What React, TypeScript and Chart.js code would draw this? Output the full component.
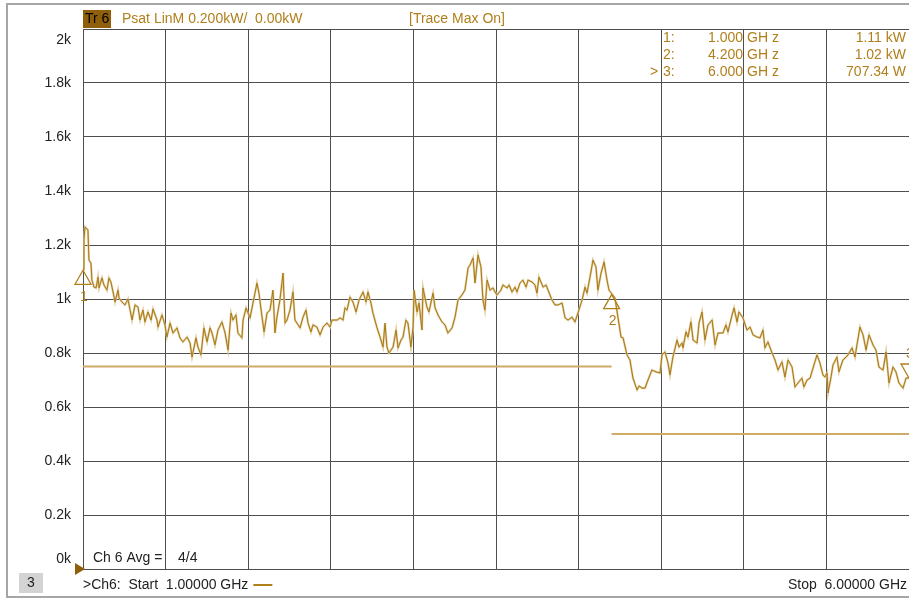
import React, { useEffect, useRef } from "react";
import { Chart, registerables } from "chart.js";

Chart.register(...registerables);

// ---------- data ----------
const traceFreqGHz = [
  1.000, 1.006, 1.012, 1.030, 1.036, 1.048, 1.054, 1.067, 1.079, 1.091, 1.097, 1.115, 1.127, 1.145, 1.157, 1.169, 1.182, 1.194, 1.212, 1.218,
  1.236, 1.254, 1.272, 1.285, 1.297, 1.315, 1.333, 1.345, 1.363, 1.375, 1.393, 1.412, 1.424, 1.448, 1.454, 1.478, 1.496, 1.508, 1.527, 1.545,
  1.569, 1.587, 1.605, 1.630, 1.648, 1.660, 1.684, 1.696, 1.714, 1.732, 1.751, 1.769, 1.781, 1.799, 1.817, 1.841, 1.860, 1.878, 1.896, 1.908,
  1.926, 1.938, 1.962, 1.969, 1.987, 1.999, 2.011, 2.029, 2.053, 2.065, 2.084, 2.096, 2.114, 2.132,
  2.150, 2.162, 2.174, 2.192, 2.211, 2.223, 2.235, 2.253, 2.271, 2.283, 2.295, 2.314, 2.332, 2.350, 2.362, 2.380, 2.392, 2.416, 2.435, 2.453,
  2.477, 2.495, 2.507, 2.538, 2.556, 2.574, 2.586, 2.598, 2.616, 2.634, 2.653, 2.671, 2.695, 2.713, 2.725, 2.743, 2.755, 2.780, 2.798, 2.816,
  2.828, 2.840, 2.852, 2.877, 2.895, 2.907, 2.925, 2.937, 2.955, 2.967, 2.985, 2.998, 3.004, 3.022, 3.034, 3.052, 3.058, 3.082, 3.094, 3.119,
  3.131, 3.149, 3.173, 3.191, 3.209, 3.234, 3.252, 3.270, 3.294, 3.312, 3.331,
  3.343, 3.361, 3.373, 3.391, 3.409, 3.421, 3.433, 3.446, 3.464, 3.482, 3.494, 3.506, 3.530, 3.542, 3.567, 3.579, 3.597, 3.615, 3.627, 3.645,
  3.663, 3.682, 3.694, 3.718, 3.736, 3.748, 3.760, 3.785, 3.803, 3.815, 3.839, 3.857, 3.875, 3.900, 3.918, 3.936, 3.960, 3.978, 3.996, 4.021,
  4.039, 4.051, 4.069, 4.087, 4.105, 4.117, 4.136, 4.154, 4.172, 4.184, 4.200, 4.220, 4.238, 4.257, 4.269, 4.293, 4.311, 4.329, 4.354, 4.366,
  4.384, 4.402, 4.420, 4.444, 4.469, 4.493,
  4.505, 4.523, 4.541, 4.553, 4.571, 4.596, 4.608, 4.626, 4.632, 4.650, 4.662, 4.680, 4.693, 4.717, 4.729, 4.747, 4.765, 4.783, 4.808, 4.826,
  4.844, 4.874, 4.892, 4.904, 4.929, 4.941, 4.959, 4.971, 4.995, 5.019, 5.038, 5.056, 5.080, 5.098, 5.116, 5.128, 5.146, 5.171, 5.189, 5.207,
  5.231, 5.249, 5.268, 5.292, 5.310, 5.328, 5.352, 5.364, 5.383, 5.401, 5.419, 5.443, 5.461, 5.479, 5.491, 5.504, 5.510, 5.528, 5.540, 5.564,
  5.576, 5.600, 5.619, 5.631, 5.655, 5.673, 5.685, 5.703, 5.722, 5.740, 5.758, 5.782, 5.800, 5.818, 5.843, 5.861, 5.879, 5.903, 5.921, 5.939,
  5.964, 5.982, 6.000,
];

const tracePowerW = [
  1110, 1219, 1267, 1256, 1144, 1133, 1070, 1044, 1041, 1081, 1041, 1078, 1052, 1033, 1078, 1063, 1026, 989, 1033, 1004,
  989, 978, 1000, 959, 922, 978, 970, 922, 959, 915, 952, 922, 963, 922, 896, 941, 904, 859, 911, 874,
  893, 856, 841, 859, 837, 785, 856, 822, 793, 893, 841, 893, 874, 830, 885, 915, 874, 811, 948, 922,
  941, 874, 856, 922, 967, 948, 930, 985, 1059, 1022, 933, 878, 948, 959,
  1033, 874, 933, 996, 1096, 911, 922, 959, 1026, 922, 911, 893, 933, 959, 911, 878, 904, 896, 867, 896,
  911, 896, 922, 922, 930, 922, 967, 959, 1007, 989, 952, 996, 1026, 989, 1026, 985, 948, 893, 859, 822,
  911, 822, 800, 822, 885, 819, 848, 859, 922, 911, 822, 896, 1033, 952, 985, 885, 1041, 970, 952, 1022,
  967, 941, 915, 904, 874, 893, 933, 996, 1015, 1033, 1115,
  1126, 1152, 1059, 1163, 1119, 996, 959, 1070, 1033, 1041, 1026, 1015, 1033, 1052, 1041, 1052, 1026, 1044, 1026, 1059,
  1070, 1044, 1070, 1063, 1052, 1022, 1081, 1044, 1052, 1033, 996, 978, 978, 985, 930, 922, 933, 915, 948, 996,
  1044, 1022, 1081, 1144, 1119, 1033, 1096, 1137, 1070, 1033, 1020, 1004, 933, 859, 856, 793, 774, 707, 663, 678,
  670, 670, 700, 737, 730, 726,
  793, 804, 763, 719, 785, 848, 822, 837, 819, 878, 859, 915, 848, 837, 911, 952, 848, 904, 922, 830,
  874, 874, 904, 878, 941, 967, 915, 952, 930, 885, 896, 867, 859, 856, 885, 819, 841, 800, 774, 737,
  767, 711, 774, 748, 674, 689, 707, 674, 700, 707, 744, 793, 763, 719, 711, 726, 652, 711, 756, 785,
  730, 774, 785, 793, 819, 785, 830, 896, 867, 811, 867, 830, 811, 748, 737, 804, 689, 748, 730, 689,
  670, 707, 707.34,
];

const limitFreqGHz = [[1.0, 4.2], [4.2, 6.0]];
const limitPowerW = [750, 500];

const markerFreqGHz = [1.0, 4.2, 6.0];
const markerPowerW = [1110, 1020, 707.34];
const activeMarker = 2;

const yTickValues = [0, 200, 400, 600, 800, 1000, 1200, 1400, 1600, 1800, 2000];
const yTickLabels = ["0k", "0.2k", "0.4k", "0.6k", "0.8k", "1k", "1.2k", "1.4k", "1.6k", "1.8k", "2k"];

const startGHz = 1.0;
const stopGHz = 6.0;

// ---------- styles ----------
const FONT = '14px "Liberation Sans", Arial, sans-serif';
const GOLD_TEXT = "#b07f1a";
const TRACE_DARK = "#a87912";
const TRACE_LIGHT = "rgba(222,198,150,0.9)";
const LIMIT = "#cfab66";
const BROWN = "#8f5f0b";
const GRID = "#4f4f4f";
const DARK_TEXT = "#222222";

function fmtPower(v: number): string {
  return v >= 1000 ? (v / 1000).toFixed(2) + " kW" : v.toFixed(2) + " W";
}

const overlayPlugin = {
  id: "overlay",
  afterDraw(chart: any) {
    const ctx: CanvasRenderingContext2D = chart.ctx;
    const xs = chart.scales.x;
    const ys = chart.scales.y;
    const area = chart.chartArea;
    ctx.save();

    // outer frame
    ctx.strokeStyle = "#a6a6a6";
    ctx.lineWidth = 2;
    ctx.strokeRect(7, 4, 930, 593);

    // y tick labels
    ctx.font = FONT;
    ctx.fillStyle = DARK_TEXT;
    ctx.textAlign = "right";
    ctx.textBaseline = "middle";
    yTickValues.forEach((v, i) => {
      let py = ys.getPixelForValue(v);
      py = Math.min(Math.max(py, area.top + 11), area.bottom - 10);
      ctx.fillText(yTickLabels[i], 71, py);
    });

    // header
    ctx.fillStyle = BROWN;
    ctx.fillRect(83, 10, 28, 18);
    ctx.fillStyle = "#000";
    ctx.textAlign = "left";
    ctx.fillText("Tr 6", 85, 19.5);
    ctx.fillStyle = GOLD_TEXT;
    ctx.fillText("Psat LinM 0.200kW/  0.00kW", 122, 19.5);
    ctx.fillText("[Trace Max On]", 409, 19.5);

    // marker table
    const rowY = [38, 55, 72];
    markerFreqGHz.forEach((f, i) => {
      const y = rowY[i];
      ctx.fillStyle = GOLD_TEXT;
      ctx.textAlign = "left";
      if (i === activeMarker) ctx.fillText(">", 650, y);
      ctx.fillText(i + 1 + ":", 663, y);
      ctx.textAlign = "right";
      ctx.fillText(f.toFixed(3), 743, y);
      ctx.textAlign = "left";
      ctx.fillText("GH z", 747, y);
      ctx.textAlign = "right";
      ctx.fillText(fmtPower(markerPowerW[i]), 906, y);
    });

    // marker symbols
    ctx.strokeStyle = GOLD_TEXT;
    ctx.lineWidth = 1.3;
    ctx.fillStyle = GOLD_TEXT;
    ctx.textAlign = "center";
    markerFreqGHz.forEach((f, i) => {
      const px = xs.getPixelForValue(f);
      const py = ys.getPixelForValue(markerPowerW[i]);
      ctx.beginPath();
      if (i === activeMarker) {
        ctx.moveTo(px, py);
        ctx.lineTo(px - 8, py - 14);
        ctx.lineTo(px + 8, py - 14);
      } else {
        ctx.moveTo(px, py + 1);
        ctx.lineTo(px - 8, py + 15);
        ctx.lineTo(px + 8, py + 15);
      }
      ctx.closePath();
      ctx.stroke();
      const ly = i === activeMarker ? py - 24 : py + 28;
      ctx.fillText(String(i + 1), px + 1, ly);
    });

    // reference arrow at 0
    const y0 = ys.getPixelForValue(0);
    ctx.fillStyle = BROWN;
    ctx.beginPath();
    ctx.moveTo(75, y0 - 6);
    ctx.lineTo(85, y0);
    ctx.lineTo(75, y0 + 6);
    ctx.closePath();
    ctx.fill();

    // averaging text
    ctx.font = FONT;
    ctx.fillStyle = DARK_TEXT;
    ctx.textAlign = "left";
    ctx.fillText("Ch 6 Avg =", 93, 558);
    ctx.fillText("4/4", 178, 558);

    // bottom status bar
    ctx.fillStyle = "#d3d3d3";
    ctx.fillRect(19, 573, 24, 20);
    ctx.fillStyle = DARK_TEXT;
    ctx.textAlign = "center";
    ctx.fillText("3", 31, 583.5);
    ctx.textAlign = "left";
    const startText = ">Ch6:  Start  " + startGHz.toFixed(5) + " GHz";
    ctx.fillText(startText, 83, 585);
    const w = ctx.measureText(startText).width;
    ctx.strokeStyle = GOLD_TEXT;
    ctx.lineWidth = 2;
    ctx.beginPath();
    ctx.moveTo(83 + w + 5, 585);
    ctx.lineTo(83 + w + 24, 585);
    ctx.stroke();
    ctx.textAlign = "right";
    ctx.fillText("Stop  " + stopGHz.toFixed(5) + " GHz", 907, 585);

    ctx.restore();
  },
};

export default function App() {
  const canvasRef = useRef<HTMLCanvasElement | null>(null);

  useEffect(() => {
    document.body.style.margin = "0";
    const canvas = canvasRef.current;
    if (!canvas) return;

    const tracePoints = traceFreqGHz.map((f, i) => ({ x: f, y: tracePowerW[i] }));
    const limitSets = limitFreqGHz.map((pair, i) => ({
      data: pair.map((f) => ({ x: f, y: limitPowerW[i] })),
      borderColor: LIMIT,
      borderWidth: 2,
      pointRadius: 0,
      tension: 0,
      fill: false,
    }));

    const chart = new Chart(canvas, {
      type: "line",
      data: {
        datasets: [
          {
            data: tracePoints,
            borderColor: TRACE_DARK,
            borderWidth: 1,
            pointRadius: 0,
            tension: 0,
            fill: false,
          },
          {
            data: tracePoints,
            borderColor: TRACE_LIGHT,
            borderWidth: 2.2,
            pointRadius: 0,
            tension: 0,
            fill: false,
          },
          ...limitSets,
        ],
      },
      options: {
        animation: false,
        responsive: false,
        devicePixelRatio: 1,
        layout: { padding: { top: 29, right: 0, bottom: 0, left: 0 } },
        plugins: {
          legend: { display: false },
          tooltip: { enabled: false },
        },
        scales: {
          x: {
            type: "linear",
            min: startGHz,
            max: stopGHz,
            ticks: { display: false, stepSize: 0.5 },
            grid: { color: GRID, lineWidth: 1, drawTicks: false },
            border: { color: GRID, width: 1 },
            afterFit: (s: any) => {
              s.height = 29;
            },
          },
          y: {
            type: "linear",
            min: 0,
            max: 2000,
            ticks: { display: false, stepSize: 200 },
            grid: { color: GRID, lineWidth: 1, drawTicks: false },
            border: { color: GRID, width: 1 },
            afterFit: (s: any) => {
              s.width = 83;
            },
          },
        },
      },
      plugins: [overlayPlugin],
    } as any);

    return () => chart.destroy();
  }, []);

  return (
    <div style={{ position: "absolute", left: 0, top: 0, width: 909, height: 598, background: "#fff" }}>
      <canvas ref={canvasRef} width={909} height={598} style={{ display: "block" }} />
    </div>
  );
}
